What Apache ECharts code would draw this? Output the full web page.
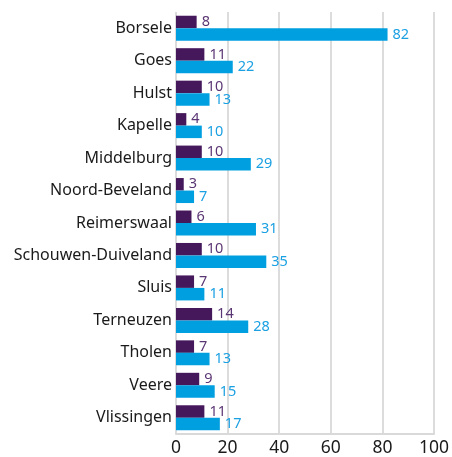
<!DOCTYPE html>
<html>
<head>
<meta charset="utf-8">
<script src="https://cdn.jsdelivr.net/npm/echarts@6/dist/echarts.min.js"></script>
<style>
  html, body { margin: 0; padding: 0; background: #fff; }
  #chart { width: 452px; height: 457px; }
</style>
</head>
<body>
<div id="chart"></div>
<script>
var gemeenten = ['Borsele', 'Goes', 'Hulst', 'Kapelle', 'Middelburg', 'Noord-Beveland',
    'Reimerswaal', 'Schouwen-Duiveland', 'Sluis', 'Terneuzen', 'Tholen', 'Veere', 'Vlissingen'];
var serieA = [8, 11, 10, 4, 10, 3, 6, 10, 7, 14, 7, 9, 11];
var serieB = [82, 22, 13, 10, 29, 7, 31, 35, 11, 28, 13, 15, 17];

var myChart = echarts.init(document.getElementById('chart'), null, { renderer: 'canvas' });

var option = {
    animation: false,
    grid: { left: 176, right: 15, top: 12, bottom: 20, containLabel: false },
    xAxis: {
        type: 'value',
        min: 0,
        max: 100,
        interval: 20,
        axisLine: { show: true, lineStyle: { color: '#d9d9d9', width: 2 } },
        axisTick: { show: false },
        splitLine: { show: true, lineStyle: { color: '#dcdcdc', width: 2 } },
        axisLabel: { color: '#1a1a1a', fontSize: 17.5, fontFamily: 'Noto Sans', margin: 5 }
    },
    yAxis: {
        type: 'category',
        data: gemeenten,
        inverse: true,
        axisLine: { show: false },
        axisTick: { show: false },
        axisLabel: { color: '#1a1a1a', fontSize: 16, fontFamily: 'Noto Sans', margin: 4 }
    },
    series: [
        {
            type: 'bar',
            data: serieA,
            barGap: '0%',
            barCategoryGap: '23%',
            itemStyle: { color: '#45185b' },
            label: {
                show: true, position: 'right', distance: 5,
                color: '#5b3674', fontSize: 14.5, fontFamily: 'Noto Sans'
            }
        },
        {
            type: 'bar',
            data: serieB,
            barGap: '0%',
            barCategoryGap: '23%',
            itemStyle: { color: '#009fe0' },
            label: {
                show: true, position: 'right', distance: 5,
                color: '#1ba0e2', fontSize: 14.5, fontFamily: 'Noto Sans'
            }
        }
    ]
};

myChart.setOption(option);
</script>
</body>
</html>
